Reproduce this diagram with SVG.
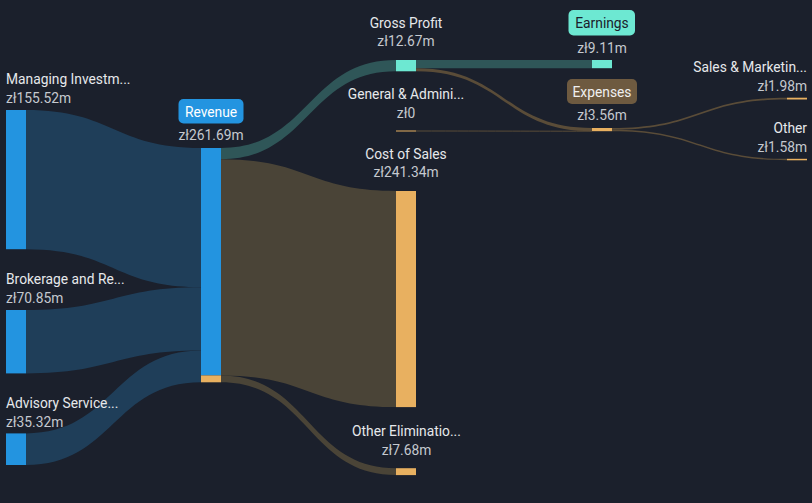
<svg xmlns="http://www.w3.org/2000/svg" width="812" height="503" viewBox="0 0 812 503">
<style>
text{font-family:Roboto,"Liberation Sans",sans-serif;font-size:13.8px}
.n{fill:#e6e8eb}
.v{fill:#c5c9cf}
.m{text-anchor:middle}
.e{text-anchor:end}
.lb{fill:#1f3e59}
.lg{fill:#2f5658}
.lc{fill:#4a4437}
.lx{fill:#5a4c38}
.blue{fill:#2394e0}
.mint{fill:#6de8d2}
.org{fill:#e8b060}
</style>
<rect width="812" height="503" fill="#1b202c"/>
<g id="connectors">
<path class="lb" d="M26,110 C113.5,110 113.5,148 201,148 L201,287.2 C113.5,287.2 113.5,249.2 26,249.2 Z"/>
<path class="lb" d="M26,310 C113.5,310 113.5,287.2 201,287.2 L201,350.6 C113.5,350.6 113.5,373.4 26,373.4 Z"/>
<path class="lb" d="M26,433.4 C113.5,433.4 113.5,350.6 201,350.6 L201,382.3 C113.5,382.3 113.5,465 26,465 Z"/>
<path class="lg" d="M221,148 C308.5,148 308.5,60 396,60 L396,71.3 C308.5,71.3 308.5,159.3 221,159.3 Z"/>
<path class="lc" d="M221,159.3 C308.5,159.3 308.5,191 396,191 L396,407.1 C308.5,407.1 308.5,375.4 221,375.4 Z"/>
<path class="lc" d="M221,375.4 C308.5,375.4 308.5,468.2 396,468.2 L396,475.1 C308.5,475.1 308.5,382.3 221,382.3 Z"/>
<path class="lg" d="M416,60 L592,60 L592,68.2 L416,68.2 Z"/>
<path class="lx" d="M416,68.2 C504,68.2 504,128 592,128 L592,131.2 C504,131.2 504,71.3 416,71.3 Z"/>
<path d="M416,131 C504,131 504,131.2 592,131.2" fill="none" stroke="#5a4c38" stroke-width="1"/>
<path class="lx" d="M612,128 C699.5,128 699.5,97.7 787,97.7 L787,99.5 C699.5,99.5 699.5,129.8 612,129.8 Z"/>
<path class="lx" d="M612,129.8 C699.5,129.8 699.5,158.8 787,158.8 L787,160.2 C699.5,160.2 699.5,131.2 612,131.2 Z"/>
</g>
<g id="node-managing">
<rect class="blue" x="6" y="110" width="20" height="139.2"/>
<text class="n" x="6" y="84">Managing Investm...</text>
<text class="v" x="6" y="103">zł155.52m</text>
</g>
<g id="node-brokerage">
<rect class="blue" x="6" y="310" width="20" height="63.4"/>
<text class="n" x="6" y="284">Brokerage and Re...</text>
<text class="v" x="6" y="303">zł70.85m</text>
</g>
<g id="node-advisory">
<rect class="blue" x="6" y="433.4" width="20" height="31.6"/>
<text class="n" x="6" y="408">Advisory Service...</text>
<text class="v" x="6" y="427">zł35.32m</text>
</g>
<g id="node-revenue">
<rect class="blue" x="201" y="148" width="20" height="227.4"/>
<rect class="org" x="201" y="375.4" width="20" height="6.9"/>
<rect class="blue" x="178.5" y="99" width="65" height="24.5" rx="5"/>
<text class="m" x="211" y="116.5" fill="#ffffff">Revenue</text>
<text class="v m" x="211" y="140">zł261.69m</text>
</g>
<g id="node-grossprofit">
<rect class="mint" x="396" y="60" width="20" height="11.3"/>
<text class="n m" x="406" y="28">Gross Profit</text>
<text class="v m" x="406" y="46">zł12.67m</text>
</g>
<g id="node-ga">
<rect class="org" x="396" y="130.5" width="20" height="1"/>
<text class="n m" x="406" y="98.5">General &amp; Admini...</text>
<text class="v m" x="406" y="118">zł0</text>
</g>
<g id="node-costofsales">
<rect class="org" x="396" y="191" width="20" height="216.1"/>
<text class="n m" x="406" y="159">Cost of Sales</text>
<text class="v m" x="406" y="177">zł241.34m</text>
</g>
<g id="node-otherelim">
<rect class="org" x="396" y="468.2" width="20" height="6.9"/>
<text class="n m" x="406.5" y="436">Other Eliminatio...</text>
<text class="v m" x="406.5" y="454.5">zł7.68m</text>
</g>
<g id="node-earnings">
<rect class="mint" x="592" y="60" width="20" height="8.2"/>
<rect class="mint" x="568.5" y="10" width="66.5" height="25.5" rx="5"/>
<text class="m" x="602" y="28" fill="#1b202c">Earnings</text>
<text class="v m" x="602" y="52.5">zł9.11m</text>
</g>
<g id="node-expenses">
<rect class="org" x="592" y="128" width="20" height="3.2"/>
<rect x="567" y="79" width="70" height="25" rx="5" fill="#6e5a40"/>
<text class="m" x="602" y="96.5" fill="#f0f0f0">Expenses</text>
<text class="v m" x="602" y="120">zł3.56m</text>
</g>
<g id="node-sales">
<rect class="org" x="787" y="97.7" width="20" height="1.8"/>
<text class="n e" x="807" y="72">Sales &amp; Marketin...</text>
<text class="v e" x="807" y="91">zł1.98m</text>
</g>
<g id="node-other">
<rect class="org" x="787" y="158.8" width="20" height="1.5"/>
<text class="n e" x="807" y="133">Other</text>
<text class="v e" x="807" y="152">zł1.58m</text>
</g>
</svg>
